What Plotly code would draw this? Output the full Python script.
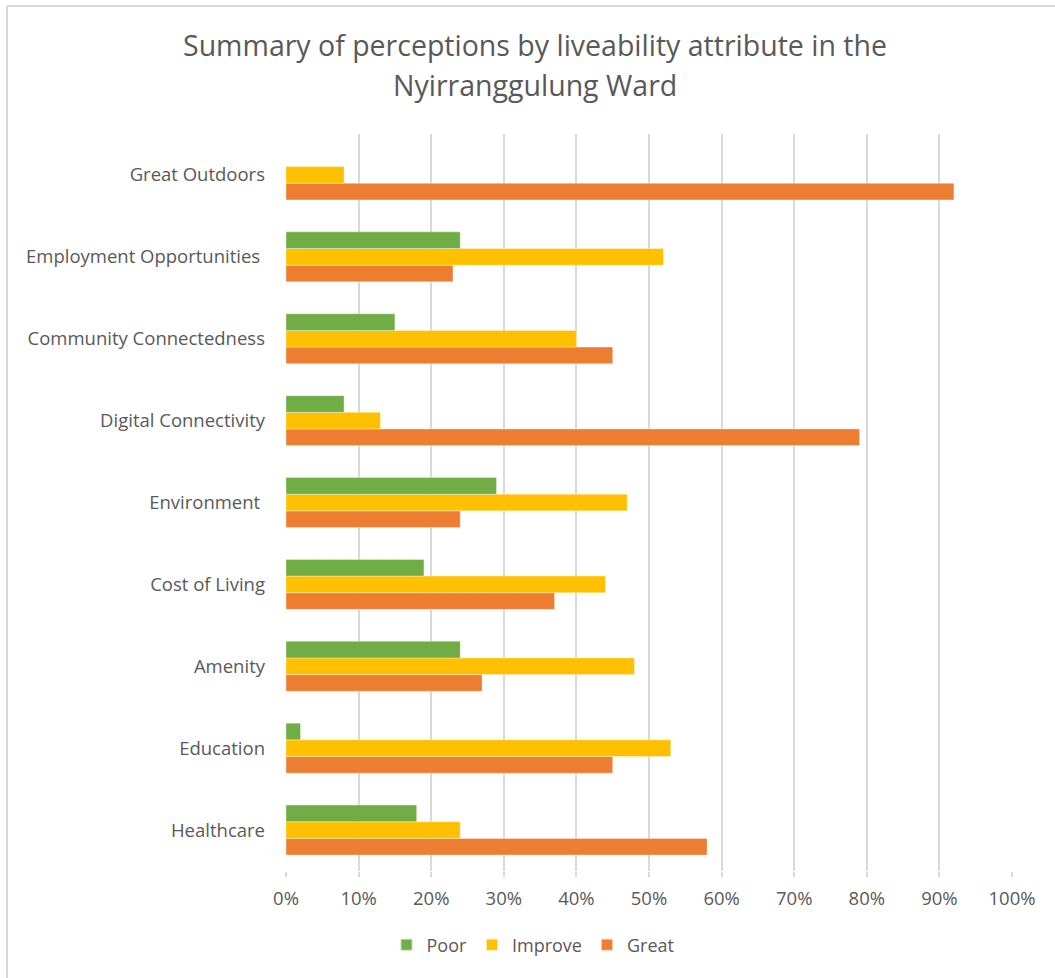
import plotly.graph_objects as go

# Liveability attributes, listed bottom to top
categories = [
    "Healthcare",
    "Education",
    "Amenity",
    "Cost of Living",
    "Environment ",
    "Digital Connectivity",
    "Community Connectedness",
    "Employment Opportunities ",
    "Great Outdoors",
]

# Share of responses (%) per perception
poor = [18, 2, 24, 19, 29, 8, 15, 24, 0]
improve = [24, 53, 48, 44, 47, 13, 40, 52, 8]
great = [58, 45, 27, 37, 24, 79, 45, 23, 92]

tick_vals = [0, 10, 20, 30, 40, 50, 60, 70, 80, 90, 100]
tick_text = ["0%", "10%", "20%", "30%", "40%", "50%", "60%", "70%", "80%", "90%", "100%"]

title_lines = [
    "Summary of perceptions by liveability attribute in the",
    "Nyirranggulung Ward",
]

GREEN = "#70AD47"
YELLOW = "#FFC000"
ORANGE = "#ED7D31"
TEXT = "#595959"
GRID = "#D9D9D9"
FONT = "Open Sans"

fig = go.Figure()
# Added bottom-up so that Poor sits on top within each group
for name, vals, col in [("Great", great, ORANGE), ("Improve", improve, YELLOW), ("Poor", poor, GREEN)]:
    fig.add_trace(go.Bar(
        y=categories, x=vals, name=name, orientation="h",
        marker=dict(color=col, line=dict(color="rgba(255,255,255,0.6)", width=0.6)),
        hoverinfo="x+y+name",
    ))

# Plot-area geometry in pixels
W, H = 1055, 978
L, R, T, B = 286, 1012, 134, 871


def px(x):
    return (x - L) / (R - L)


def py(y):
    return (B - y) / (B - T)


annotations = [
    dict(text=title_lines[0], x=px(535), y=py(45), xref="paper", yref="paper",
         showarrow=False, xanchor="center", yanchor="middle",
         font=dict(family=FONT, size=28.5, color=TEXT)),
    dict(text=title_lines[1], x=px(535), y=py(85), xref="paper", yref="paper",
         showarrow=False, xanchor="center", yanchor="middle",
         font=dict(family=FONT, size=28.5, color=TEXT)),
]

# Chart frame (top and left edges)
shapes = [
    dict(type="line", xref="paper", yref="paper", x0=px(7), x1=px(1060), y0=py(6), y1=py(6),
         line=dict(color="#D9D9D9", width=2)),
    dict(type="line", xref="paper", yref="paper", x0=px(7), x1=px(7), y0=py(6), y1=py(985),
         line=dict(color="#D9D9D9", width=2)),
]

fig.update_layout(
    width=W, height=H,
    margin=dict(l=L, r=W - R, t=T, b=H - B, pad=0),
    paper_bgcolor="white", plot_bgcolor="white",
    barmode="group", bargap=0.39, bargroupgap=0,
    font=dict(family=FONT, size=18, color=TEXT),
    showlegend=True,
    legend=dict(orientation="h", traceorder="reversed", x=px(533), xanchor="center",
                y=py(945), yanchor="middle", font=dict(size=18, color=TEXT),
                itemwidth=30, itemsizing="constant"),
    annotations=annotations,
    shapes=shapes,
    xaxis=dict(range=[0, 100], tickvals=tick_vals, ticktext=tick_text,
               showgrid=True, gridcolor=GRID, gridwidth=1.5, zeroline=False,
               showline=False, ticks="outside", ticklen=5, tickcolor=GRID, tickwidth=1.5,
               ticklabelstandoff=6, tickfont=dict(size=18.5, color=TEXT), fixedrange=True),
    yaxis=dict(categoryorder="array", categoryarray=categories, showgrid=False,
               zeroline=False, showline=False, ticks="", ticklabelstandoff=20,
               tickfont=dict(size=18.5, color=TEXT), fixedrange=True),
)

fig.write_html("out.html")
